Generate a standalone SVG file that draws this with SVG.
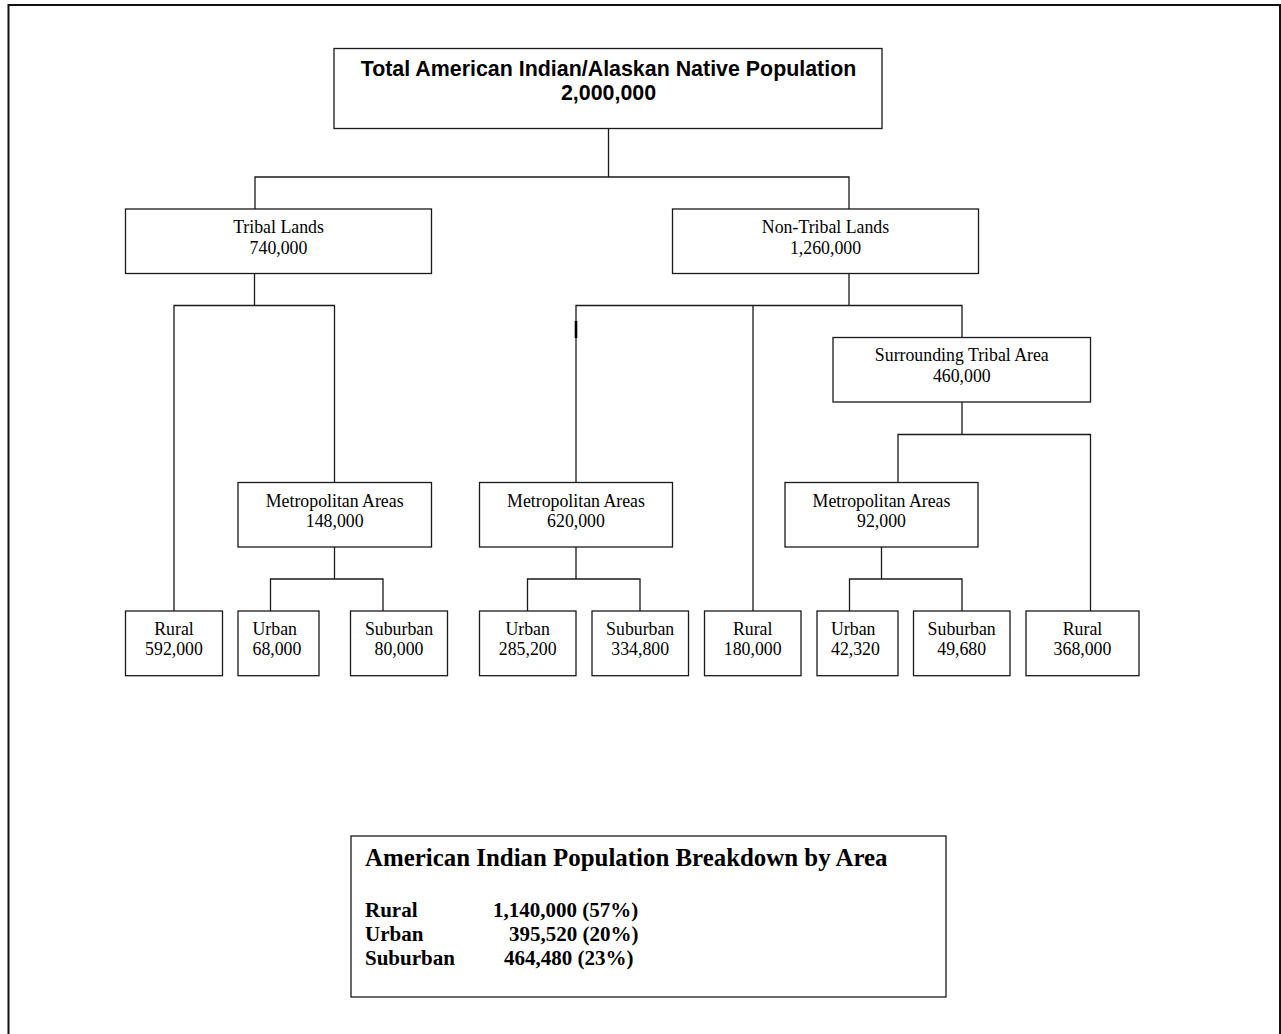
<svg xmlns="http://www.w3.org/2000/svg" width="1281" height="1034" viewBox="0 0 1281 1034">
<style>
.bx{fill:#fff;stroke:#1a1a1a;stroke-width:1.3}
.ln{fill:none;stroke:#1a1a1a;stroke-width:1.3}
.t{font-family:"Liberation Serif","Times New Roman",serif;font-size:17.8px;fill:#000;text-anchor:middle}
.tl{font-family:"Liberation Serif","Times New Roman",serif;font-size:17.8px;fill:#000}
.h{font-family:"Liberation Sans",Arial,sans-serif;font-size:21.4px;font-weight:bold;fill:#000;text-anchor:middle}
.lg{font-family:"Liberation Serif","Times New Roman",serif;font-weight:bold;fill:#000}
</style>
<rect width="1281" height="1034" fill="#fff"/>
<rect x="8.5" y="5" width="1271.5" height="1040" fill="none" stroke="#111" stroke-width="2"/>

<g id="connectors">
<path class="ln" d="M608.5,128.5V177H255V209M608.5,177H849V209"/>
<path class="ln" d="M254.5,273.5V305.5H174V611M254.5,305.5H334.5V482.5"/>
<path class="ln" d="M334.5,547V579H270.5V611M334.5,579H383V611"/>
<path class="ln" d="M849,273.5V305.5H576V482.5M849,305.5H962V337.5M753,305.5V611"/>
<line x1="576" y1="321" x2="576" y2="338" stroke="#000" stroke-width="2.6"/>
<path class="ln" d="M576,547V579H527.5V611M576,579H640V611"/>
<path class="ln" d="M962,402V434.5H898V482.5M962,434.5H1090.5V611"/>
<path class="ln" d="M881.5,547V579H849.5V611M881.5,579H962V611"/>
</g>

<g id="total">
<rect class="bx" x="334" y="48.5" width="548" height="80"/>
<text class="h" x="608.5" y="76">Total American Indian/Alaskan Native Population</text>
<text class="h" x="608.5" y="100">2,000,000</text>
</g>

<g id="tribal-lands">
<rect class="bx" x="125.5" y="209" width="306" height="64.5"/>
<text class="t" x="278.5" y="233.3">Tribal Lands</text>
<text class="t" x="278.5" y="254">740,000</text>
</g>

<g id="non-tribal-lands">
<rect class="bx" x="672.5" y="209" width="306" height="64.5"/>
<text class="t" x="825.5" y="233.3">Non-Tribal Lands</text>
<text class="t" x="825.5" y="254">1,260,000</text>
</g>

<g id="surrounding-tribal-area">
<rect class="bx" x="833" y="337.5" width="257.5" height="64.5"/>
<text class="t" x="961.8" y="361">Surrounding Tribal Area</text>
<text class="t" x="961.8" y="381.7">460,000</text>
</g>

<g id="metro-tribal">
<rect class="bx" x="238" y="482.5" width="193.5" height="64.5"/>
<text class="t" x="334.7" y="506.5">Metropolitan Areas</text>
<text class="t" x="334.7" y="527">148,000</text>
</g>

<g id="metro-nontribal">
<rect class="bx" x="479.5" y="482.5" width="193" height="64.5"/>
<text class="t" x="576" y="506.5">Metropolitan Areas</text>
<text class="t" x="576" y="527">620,000</text>
</g>

<g id="metro-surrounding">
<rect class="bx" x="785" y="482.5" width="193" height="64.5"/>
<text class="t" x="881.5" y="506.5">Metropolitan Areas</text>
<text class="t" x="881.5" y="527">92,000</text>
</g>

<g id="rural-tribal">
<rect class="bx" x="125.5" y="611" width="97" height="64.7"/>
<text class="t" x="174" y="635">Rural</text>
<text class="t" x="174" y="655">592,000</text>
</g>

<g id="urban-tribal">
<rect class="bx" x="238" y="611" width="81" height="64.7"/>
<text class="tl" x="252.5" y="635">Urban</text>
<text class="tl" x="252.5" y="655">68,000</text>
</g>

<g id="suburban-tribal">
<rect class="bx" x="350.5" y="611" width="97" height="64.7"/>
<text class="t" x="399" y="635">Suburban</text>
<text class="t" x="399" y="655">80,000</text>
</g>

<g id="urban-nontribal">
<rect class="bx" x="479.5" y="611" width="96.5" height="64.7"/>
<text class="t" x="527.7" y="635">Urban</text>
<text class="t" x="527.7" y="655">285,200</text>
</g>

<g id="suburban-nontribal">
<rect class="bx" x="592" y="611" width="96.5" height="64.7"/>
<text class="t" x="640.2" y="635">Suburban</text>
<text class="t" x="640.2" y="655">334,800</text>
</g>

<g id="rural-nontribal">
<rect class="bx" x="704.5" y="611" width="96.5" height="64.7"/>
<text class="t" x="752.7" y="635">Rural</text>
<text class="t" x="752.7" y="655">180,000</text>
</g>

<g id="urban-surrounding">
<rect class="bx" x="817" y="611" width="81" height="64.7"/>
<text class="tl" x="831" y="635">Urban</text>
<text class="tl" x="831" y="655">42,320</text>
</g>

<g id="suburban-surrounding">
<rect class="bx" x="913.5" y="611" width="96.5" height="64.7"/>
<text class="t" x="961.7" y="635">Suburban</text>
<text class="t" x="961.7" y="655">49,680</text>
</g>

<g id="rural-surrounding">
<rect class="bx" x="1026" y="611" width="113" height="64.7"/>
<text class="t" x="1082.5" y="635">Rural</text>
<text class="t" x="1082.5" y="655">368,000</text>
</g>

<g id="legend">
<rect class="bx" x="351" y="836" width="595" height="161"/>
<text class="lg" x="365" y="866" font-size="24.9">American Indian Population Breakdown by Area</text>
<text class="lg" x="365" y="917" font-size="21">Rural</text>
<text class="lg" x="493" y="917" font-size="21">1,140,000 (57%)</text>
<text class="lg" x="365" y="941" font-size="21">Urban</text>
<text class="lg" x="509" y="941" font-size="21">395,520 (20%)</text>
<text class="lg" x="365" y="965" font-size="21">Suburban</text>
<text class="lg" x="504" y="965" font-size="21">464,480 (23%)</text>
</g>
</svg>
